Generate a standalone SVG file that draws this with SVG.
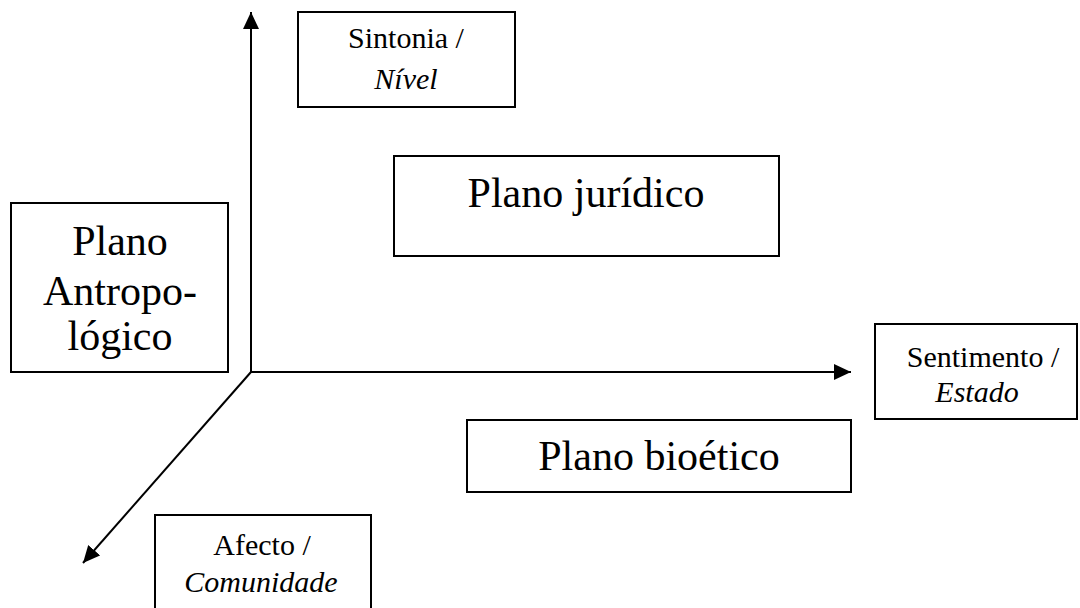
<svg xmlns="http://www.w3.org/2000/svg" width="1080" height="608" viewBox="0 0 1080 608">
<style>
.box{fill:#fff;stroke:#000;stroke-width:2}
.ax{stroke:#000;stroke-width:2;fill:none}
text{font-family:"Liberation Serif","Times New Roman",serif;fill:#000;text-anchor:middle}
.s{font-size:30px}
.l{font-size:42px}
.i{font-style:italic}
</style>
<defs>
<marker id="ah" markerUnits="userSpaceOnUse" markerWidth="18" markerHeight="17" refX="17" refY="8" orient="auto">
<path d="M0,0 L17,8 L0,16 z" fill="#000"/>
</marker>
</defs>
<rect width="1080" height="608" fill="#fff"/>
<g id="connectors">
<line class="ax" x1="251" y1="373" x2="251" y2="12" marker-end="url(#ah)"/>
<line class="ax" x1="251" y1="372" x2="851" y2="372" marker-end="url(#ah)"/>
<line class="ax" x1="251" y1="372" x2="83" y2="563" marker-end="url(#ah)"/>
</g>
<g id="sintonia">
<rect class="box" x="298" y="12" width="217" height="95"/>
<text class="s" x="406" y="48">Sintonia /</text>
<text class="s i" x="406" y="89">Nível</text>
</g>
<g id="juridico">
<rect class="box" x="394" y="156" width="385" height="100"/>
<text class="l" x="586" y="207">Plano jurídico</text>
</g>
<g id="antropologico">
<rect class="box" x="11" y="203" width="217" height="169"/>
<text class="l" x="120" y="255">Plano</text>
<text class="l" x="120" y="305">Antropo-</text>
<text class="l" x="120" y="350">lógico</text>
</g>
<g id="sentimento">
<rect class="box" x="875" y="324" width="202" height="95"/>
<text class="s" x="983" y="367">Sentimento /</text>
<text class="s i" x="977" y="402">Estado</text>
</g>
<g id="bioetico">
<rect class="box" x="467" y="420" width="384" height="72"/>
<text class="l" x="659" y="470">Plano bioético</text>
</g>
<g id="afecto">
<rect class="box" x="155" y="515" width="216" height="100"/>
<text class="s" x="262" y="555">Afecto /</text>
<text class="s i" x="261" y="592">Comunidade</text>
</g>
</svg>
